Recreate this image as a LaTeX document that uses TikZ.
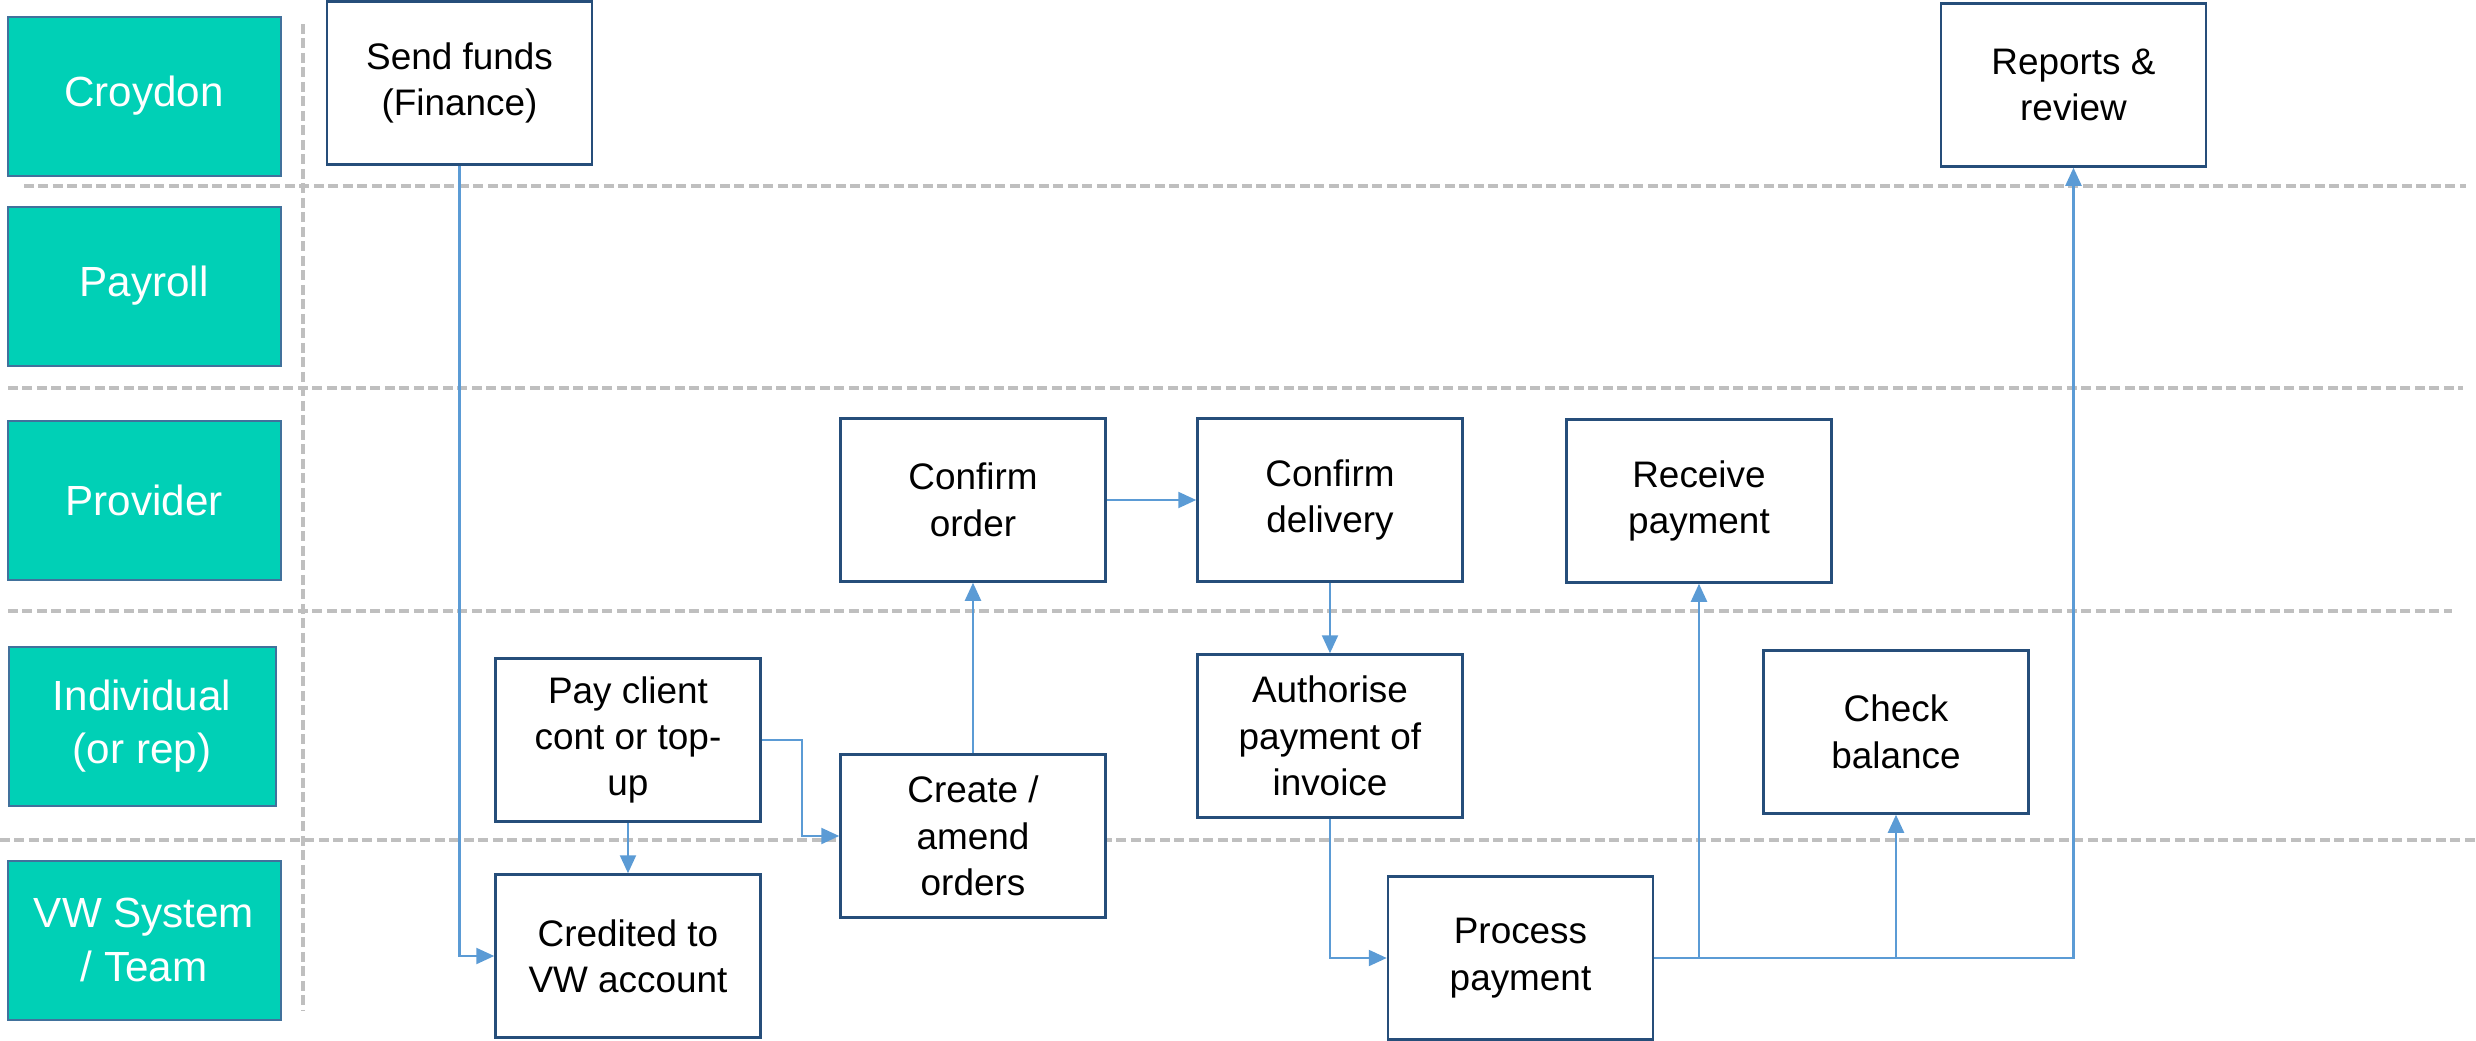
\documentclass[tikz,border=0pt]{standalone}
\usepackage{fontspec}
\setmainfont{Liberation Sans}
\usetikzlibrary{arrows.meta}
\definecolor{laneteal}{RGB}{0,208,182}
\definecolor{laneedge}{RGB}{65,113,156}
\definecolor{boxedge}{RGB}{38,78,122}
\definecolor{flowblue}{RGB}{91,155,213}
\definecolor{sepgray}{RGB}{191,191,191}
\begin{document}
\begin{tikzpicture}[x=0.1mm,y=-0.1mm,
  lane/.style={draw=laneedge,line width=0.2mm,fill=laneteal,text=white,
    minimum width=27.3mm,minimum height=15.9mm,align=center,inner sep=0pt,
    font=\fontsize{12}{15.3}\selectfont},
  task/.style={draw=boxedge,line width=0.25mm,fill=white,text=black,
    minimum width=26.5mm,minimum height=16.3mm,align=center,inner sep=0pt,
    font=\fontsize{10.5}{13.2}\selectfont},
  sep/.style={draw=sepgray,line width=0.35mm,dash pattern=on 1.0mm off 0.45mm},
  conn/.style={draw=flowblue,line width=0.22mm,
    -{Triangle[length=1.8mm,width=1.6mm]}}]
\path[use as bounding box] (0,0) rectangle (2476,1041);

% swimlane separators
\draw[sep] (24,186) -- (2466,186);
\draw[sep] (8,388) -- (2463,388);
\draw[sep] (8,611) -- (2452,611);
\draw[sep] (0,840) -- (2476,840);
\draw[sep] (303,24) -- (303,1010);

% lane headers
\node[lane] (croydon)  at (144,96)  {Croydon};
\node[lane] (payroll)  at (144,286) {Payroll};
\node[lane] (provider) at (144,500) {Provider};
\node[lane,minimum width=26.7mm] (indiv) at (142,726) {Individual\\(or rep)};
\node[lane] (vwsys)    at (144,940) {VW System\\/ Team};

% process steps
\node[task] (send)     at (459.5,83)  {Send funds\\(Finance)};
\node[task] (reports)  at (2073.5,85) {Reports \&\\review};
\node[task] (corder)   at (973,500)   {Confirm\\order};
\node[task] (cdeliv)   at (1330,500)  {Confirm\\delivery};
\node[task] (receive)  at (1699,501)  {Receive\\payment};
\node[task] (pay)      at (628,740)   {Pay client\\cont or top-\\up};
\node[task] (create)   at (973,836)   {Create /\\amend\\orders};
\node[task] (auth)     at (1330,736)  {Authorise\\payment of\\invoice};
\node[task] (check)    at (1896,732)  {Check\\balance};
\node[task] (credited) at (628,956)   {Credited to\\VW account};
\node[task] (process)  at (1520.5,958) {Process\\payment};

% flow connectors
\draw[conn] (send.south) |- (credited.west);
\draw[conn] (pay.south) -- (credited.north);
\draw[conn] (pay.east) -- ++(40,0) |- (create.west);
\draw[conn] (create.north) -- (corder.south);
\draw[conn] (corder.east) -- (cdeliv.west);
\draw[conn] (cdeliv.south) -- (auth.north);
\draw[conn] (auth.south) |- (process.west);
\draw[conn] (process.east) -| (reports.south);
\draw[conn] (process.east -| receive.south) -- (receive.south);
\draw[conn] (process.east -| check.south) -- (check.south);
\end{tikzpicture}
\end{document}
